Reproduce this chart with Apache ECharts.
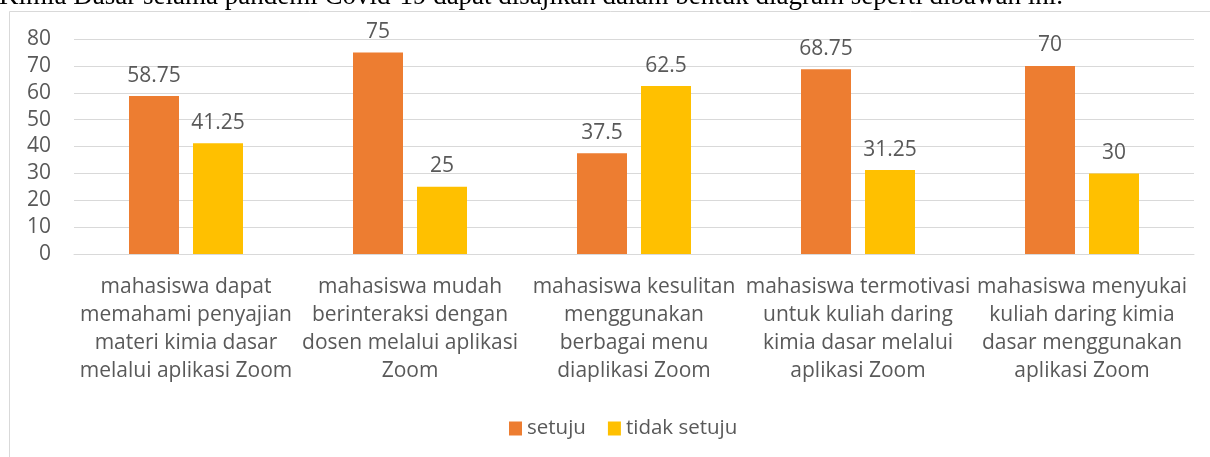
<!DOCTYPE html>
<html>
<head>
<meta charset="utf-8">
<script src="https://cdn.jsdelivr.net/npm/echarts@6/dist/echarts.min.js"></script>
<style>
  html, body { margin: 0; padding: 0; background: #fff; }
  #chart { width: 1210px; height: 457px; }
</style>
</head>
<body>
<div id="chart"></div>
<script>
const categories = [
  'mahasiswa dapat\nmemahami penyajian\nmateri kimia dasar\nmelalui aplikasi Zoom',
  'mahasiswa mudah\nberinteraksi dengan\ndosen melalui aplikasi\nZoom',
  'mahasiswa kesulitan\nmenggunakan\nberbagai menu\ndiaplikasi Zoom',
  'mahasiswa termotivasi\nuntuk kuliah daring\nkimia dasar melalui\naplikasi Zoom',
  'mahasiswa menyukai\nkuliah daring kimia\ndasar menggunakan\naplikasi Zoom'
]
const setuju = [58.75, 75, 37.5, 68.75, 70]
const tidakSetuju = [41.25, 25, 62.5, 31.25, 30]

const textColor = '#595959'
const font = 'Open Sans'

const chart = echarts.init(document.getElementById('chart'))
chart.setOption({
  animation: false,
  textStyle: { fontFamily: font },
  graphic: [
    {
      type: 'text',
      left: -1, top: -17,
      style: {
        text: 'Kimia Dasar selama pandemi Covid-19 dapat disajikan dalam bentuk diagram seperti dibawah ini.',
        font: '27px "Liberation Serif"',
        fill: '#000'
      }
    },
    {
      type: 'polyline',
      shape: { points: [[9.5, 460], [9.5, 11.5], [1215, 11.5]] },
      style: { stroke: '#d9d9d9', lineWidth: 1, fill: null }
    }
  ],
  legend: {
    top: 413,
    left: 504,
    itemWidth: 13,
    itemHeight: 14,
    itemGap: 22,
    icon: 'rect',
    textStyle: { color: textColor, fontSize: 20.5, fontFamily: font }
  },
  grid: { left: 74, right: 16, top: 39, bottom: 203, containLabel: false },
  xAxis: {
    type: 'category',
    data: categories,
    axisLine: { lineStyle: { color: '#d9d9d9' } },
    axisTick: { show: false },
    axisLabel: { color: textColor, fontSize: 21, lineHeight: 28, margin: 19, interval: 0 }
  },
  yAxis: {
    type: 'value',
    min: 0, max: 80, interval: 10,
    axisLine: { show: false },
    axisTick: { show: false },
    splitLine: { lineStyle: { color: '#d9d9d9' } },
    axisLabel: { color: textColor, fontSize: 21, margin: 23 }
  },
  series: [
    {
      name: 'setuju', type: 'bar', data: setuju,
      barWidth: 50, barGap: '28%',
      itemStyle: { color: '#ed7d31' },
      label: { show: true, position: 'top', distance: 10, color: textColor, fontSize: 21 }
    },
    {
      name: 'tidak setuju', type: 'bar', data: tidakSetuju,
      barWidth: 50,
      itemStyle: { color: '#ffc000' },
      label: { show: true, position: 'top', distance: 10, color: textColor, fontSize: 21 }
    }
  ]
})
</script>
</body>
</html>
